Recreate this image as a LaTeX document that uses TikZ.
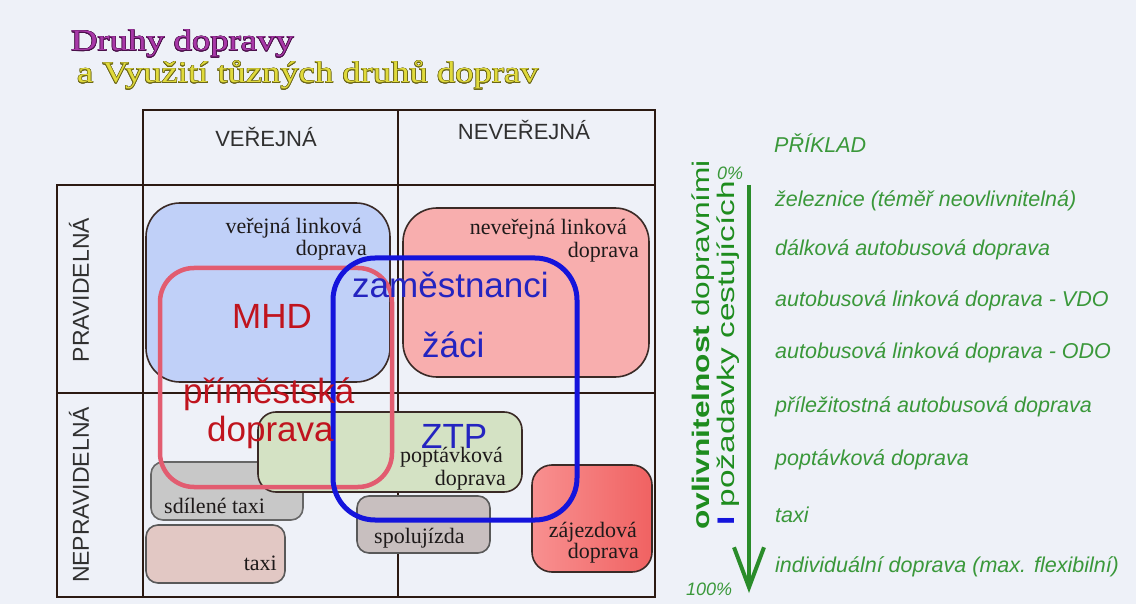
\documentclass[tikz,border=0pt]{standalone}
\usepackage{fontspec}
\setmainfont{Liberation Serif}
\setsansfont{Liberation Sans}
\usepackage{contour}
\contourlength{0.45pt}
\usetikzlibrary{arrows.meta}

\definecolor{bg}{HTML}{EEF1F8}
\definecolor{gridc}{HTML}{2B1A12}
\definecolor{hdrc}{HTML}{303030}
\definecolor{txtc}{HTML}{1E1A1A}
\definecolor{edgec}{HTML}{3A2A26}
\definecolor{vlkfill}{HTML}{C0D0F8}
\definecolor{nlkfill}{HTML}{F8AEAE}
\definecolor{popfill}{HTML}{D4E2C4}
\definecolor{sdfill}{HTML}{C8C8C8}
\definecolor{taxfill}{HTML}{E2C8C4}
\definecolor{spfill}{HTML}{C8BFBF}
\definecolor{zajl}{HTML}{F89090}
\definecolor{zajr}{HTML}{F06262}
\definecolor{mhdline}{HTML}{E25C70}
\definecolor{mhdtext}{HTML}{C0141E}
\definecolor{ztpline}{HTML}{1414DC}
\definecolor{ztptext}{HTML}{2424C0}
\definecolor{itemc}{HTML}{3A983A}
\definecolor{axisc}{HTML}{1E8C1E}
\definecolor{arrowc}{HTML}{2A8C2A}
\definecolor{tpurple}{HTML}{A838A8}
\definecolor{tpurpleo}{HTML}{4A104A}
\definecolor{tyellow}{HTML}{E0DA3C}
\definecolor{tyellowo}{HTML}{6B6618}

\begin{document}
\begin{tikzpicture}[x=1pt,y=-1pt,
  gridline/.style={draw=gridc, line width=2.4pt},
  zone/.style={draw=edgec, line width=1.6pt},
  hdr/.style={font=\sffamily\fontsize{22}{24}\selectfont, text=hdrc, inner sep=0},
  btxt/.style={font=\fontsize{22}{24}\selectfont, text=txtc, inner sep=0},
  big/.style={font=\sffamily\fontsize{35}{38}\selectfont, inner sep=0, anchor=base west},
  item/.style={font=\sffamily\itshape\fontsize{21.5}{24}\selectfont, text=itemc, anchor=base west, inner sep=0},
]
\useasboundingbox (0,0) rectangle (1136,604);
\fill[bg] (0,0) rectangle (1136,604);

% title
\node[anchor=base west, inner sep=0] (title1) at (71,51)
  {\scalebox{1.22}[1]{\fontsize{30}{36}\selectfont\color{tpurple}\contour{tpurpleo}{Druhy dopravy}}};
\node[anchor=base west, inner sep=0] (title2) at (77,83)
  {\scalebox{1.22}[1]{\fontsize{30}{36}\selectfont\color{tyellow}\contour{tyellowo}{a Využití tůzných druhů doprav}}};

% table frame
\draw[gridline] (143,110) rectangle (655,185);
\draw[gridline] (398,110) -- (398,185);
\draw[gridline] (57,185) rectangle (655,597);
\draw[gridline] (143,185) -- (143,597);
\draw[gridline] (398,185) -- (398,597);
\draw[gridline] (57,393) -- (655,393);

\node[hdr] (hverejna) at (266,137) {VEŘEJNÁ};
\node[hdr] (hneverejna) at (524,130) {NEVEŘEJNÁ};
\node[hdr, rotate=90, font=\sffamily\fontsize{23}{24}\selectfont] (hprav) at (79,290) {PRAVIDELNÁ};
\node[hdr, rotate=90, font=\sffamily\fontsize{23}{24}\selectfont] (hneprav) at (79,495) {NEPRAVIDELNÁ};

% kinds of transport
\filldraw[zone, fill=vlkfill, rounded corners=34pt] (146,203) rectangle (390,382);
\filldraw[zone, fill=nlkfill, rounded corners=34pt] (403,208) rectangle (649,377);
\filldraw[zone, draw=gray!80!black, fill=sdfill, rounded corners=12pt] (151,462) rectangle (303,520);
\filldraw[zone, draw=gray!70!black, fill=taxfill, rounded corners=12pt] (146,525) rectangle (285,583);
\filldraw[zone, fill=popfill, rounded corners=18pt] (258,412) rectangle (522,492);
\filldraw[zone, draw=gray!70!black, fill=spfill, rounded corners=12pt] (357,496) rectangle (490,553);
\path[zone, left color=zajl, right color=zajr, rounded corners=20pt] (532,465) rectangle (652,572);

\node[btxt, anchor=base east] (vlk1) at (362,234) {veřejná linková};
\node[btxt, anchor=base east] (vlk2) at (367,256) {doprava};
\node[btxt, anchor=base east] (nlk1) at (627,235) {neveřejná linková};
\node[btxt, anchor=base east] (nlk2) at (639,258) {doprava};
\node[btxt, anchor=base east] (pop1) at (503,462) {poptávková};
\node[btxt, anchor=base east] (pop2) at (506,485) {doprava};
\node[btxt, anchor=base west] (sdt) at (164,513) {sdílené taxi};
\node[btxt, anchor=base east] (tax) at (277,570) {taxi};
\node[btxt, anchor=base west] (spj) at (374,543) {spolujízda};
\node[btxt, anchor=base east] (zaj1) at (637,537) {zájezdová};
\node[btxt, anchor=base east] (zaj2) at (639,558) {doprava};

% groups of passengers
\draw[draw=mhdline, line width=4.5pt, rounded corners=34pt] (160,268) rectangle (392,487);
\draw[draw=ztpline, line width=5pt, rounded corners=42pt] (333,258) rectangle (577,520);

\node[big, text=mhdtext] (mhd) at (232,329) {MHD};
\node[big, text=mhdtext] (prim1) at (183,403) {příměstská};
\node[big, text=mhdtext] (prim2) at (207,441) {doprava};
\node[big, text=ztptext] (zam) at (352,298) {zaměstnanci};
\node[big, text=ztptext] (zaci) at (422,357) {žáci};
\node[big, text=ztptext] (ztp) at (421,448) {ZTP};

% influence axis
\coordinate (axtop) at (749,185);
\coordinate (axbot) at (749,593);
\draw[draw=arrowc, line width=4pt, -{Straight Barb[length=40pt, width=30pt]}] (axtop) -- (axbot);
\node[font=\sffamily\itshape\fontsize{18}{20}\selectfont, text=itemc, anchor=base west, inner sep=0] (p0) at (717,180) {0\%};
\node[font=\sffamily\itshape\fontsize{18}{20}\selectfont, text=itemc, anchor=base west, inner sep=0] (p100) at (686,595) {100\%};

\node[rotate=90, anchor=base west, inner sep=0, text=axisc] (axis1) at (709,530)
  {\scalebox{1.32}[1]{\sffamily\fontsize{24}{26}\selectfont\textbf{ovlivnitelnost} dopravními}};
\node[rotate=90, anchor=base west, inner sep=0, text=axisc] (axis2) at (734,526)
  {\scalebox{1.39}[1]{\sffamily\fontsize{24}{26}\selectfont{\color{ztpline}\textbf{I}} požadavky cestujících}};

% examples
\node[item] (ex0) at (774,153) {PŘÍKLAD};
\node[item] (ex1) at (775,207) {železnice (téměř neovlivnitelná)};
\node[item] (ex2) at (775,256) {dálková autobusová doprava};
\node[item] (ex3) at (775,307) {autobusová linková doprava - VDO};
\node[item] (ex4) at (775,358) {autobusová linková doprava - ODO};
\node[item] (ex5) at (775,412) {příležitostná autobusová doprava};
\node[item] (ex6) at (775,465) {poptávková doprava};
\node[item] (ex7) at (775,522) {taxi};
\node[item] (ex8) at (775,572) {individuální doprava (max. flexibilní)};
\end{tikzpicture}
\end{document}
